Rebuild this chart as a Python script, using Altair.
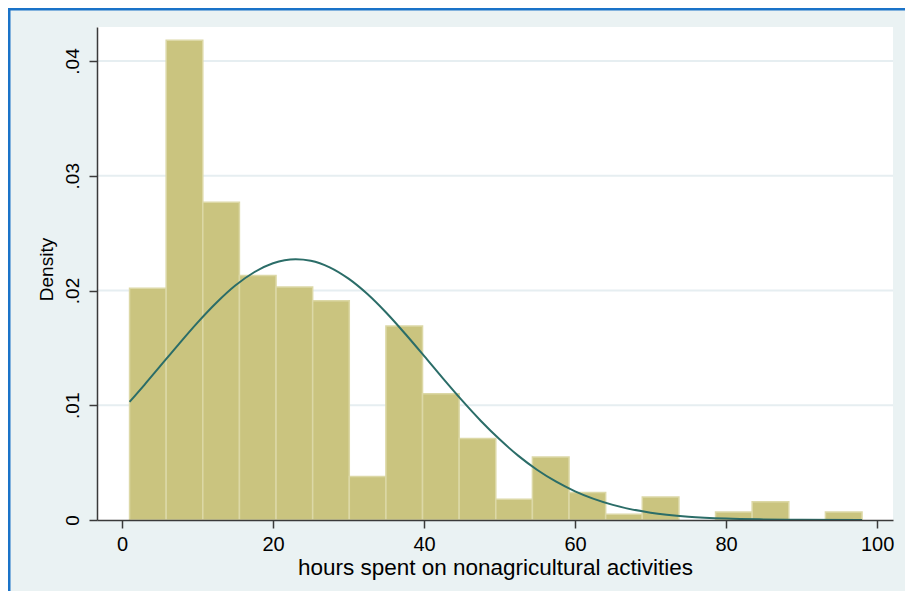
import altair as alt
import pandas as pd

# Histogram bins (hours) and densities
bin_edges = [1.0, 5.85, 10.7, 15.55, 20.4, 25.25, 30.1, 34.95, 39.8, 44.65, 49.5,
             54.35, 59.2, 64.05, 68.9, 73.75, 78.6, 83.45, 88.3, 93.15, 98.0]
densities = [0.0202, 0.0418, 0.0277, 0.0213, 0.0203, 0.0191, 0.0038, 0.0169, 0.0110, 0.0071,
             0.0018, 0.0055, 0.0024, 0.0005, 0.0020, 0.0, 0.0007, 0.0016, 0.0, 0.0007]

# Overlaid normal-density curve
curve_x = [1, 3, 5, 7.5, 10, 12.5, 15, 17.5, 20, 23, 25, 27.5, 30, 32.5, 35, 37.5, 40,
           42.5, 45, 47.5, 50, 52.5, 55, 57.5, 60, 65, 70, 75, 80, 85, 90, 98]
curve_y = [0.01029, 0.01180, 0.01336, 0.01531, 0.01720, 0.01893, 0.02043, 0.02159, 0.02237,
           0.02272, 0.02259, 0.02202, 0.02103, 0.01969, 0.01806, 0.01623, 0.01430, 0.01234,
           0.01044, 0.00865, 0.00703, 0.00559, 0.00436, 0.00334, 0.00250, 0.00132, 0.00064,
           0.00029, 0.00012, 0.00005, 0.00002, 0.0]

x_ticks = [0, 20, 40, 60, 80, 100]
y_ticks = [0, 0.01, 0.02, 0.03, 0.04]
x_title = "hours spent on nonagricultural activities"
y_title = "Density"

bars = pd.DataFrame({
    "start": bin_edges[:-1],
    "end": bin_edges[1:],
    "density": densities,
})
bars = bars[bars["density"] > 0]
curve = pd.DataFrame({"x": curve_x, "y": curve_y})
grid = pd.DataFrame({"v": [v for v in y_ticks if v > 0]})

FONT = "Liberation Sans"
xscale = alt.Scale(domain=[-3.31, 102.1], nice=False, zero=False, padding=0)
yscale = alt.Scale(domain=[0, 0.042963], nice=False, zero=False, padding=0)

xaxis = alt.Axis(values=x_ticks, title=x_title, grid=False, labelFontSize=20, labelFont=FONT,
                 labelColor="black", labelBaseline="alphabetic", labelPadding=22,
                 labelFlush=False, labelOverlap=False,
                 tickSize=8, tickWidth=1.5, tickColor="#3a3a3a",
                 domainColor="#3a3a3a", domainWidth=1.5,
                 titleFont=FONT, titleFontSize=22.5, titleFontWeight="normal", titleColor="black",
                 titleBaseline="alphabetic", titleY=54, zindex=1)
yaxis = alt.Axis(values=y_ticks, title=y_title, grid=False, labelFontSize=19, labelFont=FONT,
                 labelColor="black", labelAngle=270, labelAlign="center",
                 labelBaseline="alphabetic", labelPadding=11, labelFlush=False, labelOverlap=False,
                 labelExpr="datum.value == 0 ? '0' : substring(format(datum.value, '.2f'), 1)",
                 tickSize=8, tickWidth=1.5, tickColor="#3a3a3a",
                 domainColor="#3a3a3a", domainWidth=1.5,
                 titleFont=FONT, titleFontSize=19, titleFontWeight="normal", titleColor="black",
                 titleAngle=270, titleAlign="center", titleBaseline="alphabetic",
                 titleX=-45, titleY=242, zindex=1)

grid_layer = alt.Chart(grid).mark_rule(color="#e6eef1", strokeWidth=2).encode(
    y=alt.Y("v:Q", scale=yscale, axis=yaxis)
)

bar_layer = alt.Chart(bars).mark_rect(color="#cac47f", stroke="#dcd8a6", strokeWidth=1.5).encode(
    x=alt.X("start:Q", scale=xscale, axis=xaxis),
    x2="end:Q",
    y=alt.Y("density:Q", scale=yscale, axis=yaxis),
    y2=alt.datum(0),
)

curve_layer = alt.Chart(curve).mark_line(color="#2b6d68", strokeWidth=2,
                                         interpolate="monotone").encode(
    x=alt.X("x:Q", scale=xscale, axis=xaxis),
    y=alt.Y("y:Q", scale=yscale, axis=yaxis),
)

border_v = alt.Chart(pd.DataFrame({"a": [0]})).mark_rule(color="#1a73c8", strokeWidth=3).encode(
    x=alt.value(-88), y=alt.value(-19), y2=alt.value(570)
)
border_h = alt.Chart(pd.DataFrame({"a": [0]})).mark_rule(color="#1a73c8", strokeWidth=3).encode(
    x=alt.value(-89), x2=alt.value(810), y=alt.value(-18)
)

chart = alt.layer(grid_layer, bar_layer, curve_layer, border_v, border_h).properties(
    width=796,
    height=493,
    autosize=alt.AutoSizeParams(type="none"),
    padding={"left": 89, "top": 19, "right": 12, "bottom": 71},
    background="#eaf2f3",
).configure_view(fill="white", strokeWidth=0)

chart.save("out.html", embed_options={"renderer": "svg", "actions": False})
